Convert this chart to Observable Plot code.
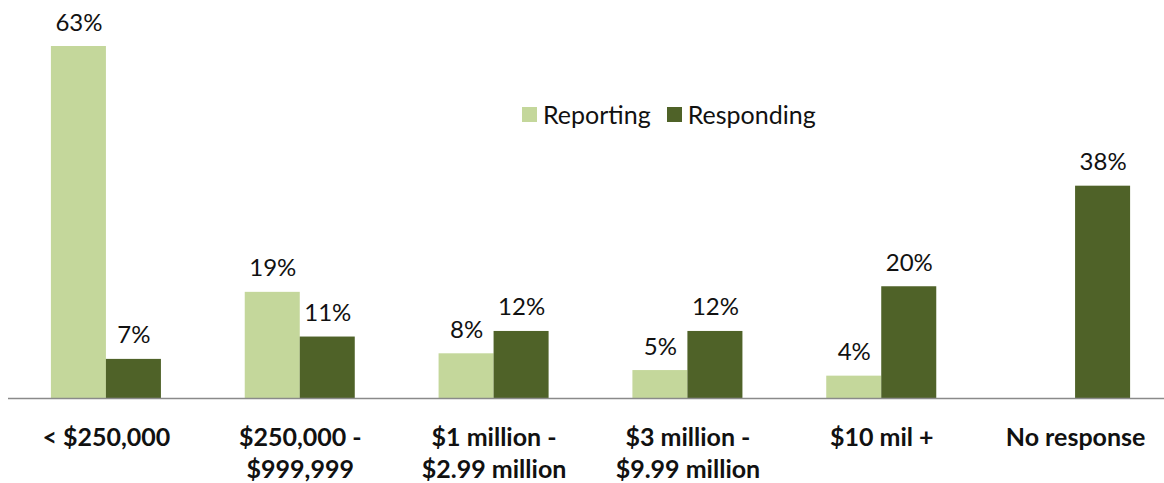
<!DOCTYPE html>
<html><head><meta charset="utf-8">
<script src="https://cdn.jsdelivr.net/npm/d3@7"></script>
<script src="https://cdn.jsdelivr.net/npm/@observablehq/plot@0.6"></script>
<style>
body{margin:0;background:#fff;font-family:Lato,sans-serif}
#wrap{position:relative;width:1164px;height:483px}
#legend{position:absolute;left:522px;top:99px;display:flex;align-items:center;font-size:25px;color:#111}
#legend .item{display:flex;align-items:center;margin-right:16px}
#legend .sw{width:15px;height:15px;margin-right:6px}
</style>
</head><body><div id="wrap"></div>
<script>
const categories = ["< $250,000", "$250,000 - $999,999", "$1 million - $2.99 million", "$3 million - $9.99 million", "$10 mil +", "No response"];
const tickLabels = ["< $250,000", "$250,000 -\n$999,999", "$1 million -\n$2.99 million", "$3 million -\n$9.99 million", "$10 mil +", "No response"];
const series = ["Reporting", "Responding"];
const reporting = [63, 19, 8, 5, 4, null];
const responding = [7, 11, 12, 12, 20, 38];
const colors = ["#C4D79B", "#4F6228"];

const rows = [];
categories.forEach((c, i) => {
  if (reporting[i] != null) rows.push({category: c, series: series[0], value: reporting[i]});
  if (responding[i] != null) rows.push({category: c, series: series[1], value: responding[i]});
});
const rep = rows.filter(d => d.series === series[0]);
const res = rows.filter(d => d.series === series[1]);
const half = 55;

const chart = Plot.plot({
  width: 1164,
  height: 483,
  marginLeft: 8,
  marginRight: 0,
  marginTop: 46,
  marginBottom: 85,
  style: {fontFamily: "Lato, sans-serif", background: "#fff", color: "#111"},
  x: {domain: categories, range: [9, 1172], paddingInner: 0.4324, paddingOuter: 0.2162, round: false, label: null},
  y: {domain: [0, 63], axis: null},
  color: {domain: series, range: colors},
  marks: [
    Plot.barY(rep, {x: "category", y: "value", fill: "series", insetRight: half}),
    Plot.barY(res, {x: "category", y: "value", fill: "series", insetLeft: half}),
    Plot.ruleY([0], {stroke: "#8a8a8a", strokeWidth: 1.5}),
    Plot.text(rep, {x: "category", y: "value", text: d => d.value + "%", dx: -half / 2, dy: -16, lineAnchor: "bottom", fontSize: 24, fill: "#111"}),
    Plot.text(res, {x: "category", y: "value", text: d => d.value + "%", dx: half / 2, dy: -16, lineAnchor: "bottom", fontSize: 24, fill: "#111"}),
    Plot.axisX({tickSize: 0, tickPadding: 24, fontSize: 25, fontWeight: "bold", lineHeight: 1.3, label: null, tickFormat: (d, i) => tickLabels[categories.indexOf(d)], fill: "#111"})
  ]
});
const wrap = document.getElementById("wrap");
wrap.appendChild(chart);
const legend = document.createElement("div");
legend.id = "legend";
series.forEach((s, i) => {
  const it = document.createElement("div");
  it.className = "item";
  const sw = document.createElement("span");
  sw.className = "sw";
  sw.style.background = colors[i];
  const t = document.createElement("span");
  t.textContent = s;
  it.appendChild(sw); it.appendChild(t);
  legend.appendChild(it);
});
wrap.appendChild(legend);
</script>
</body></html>
